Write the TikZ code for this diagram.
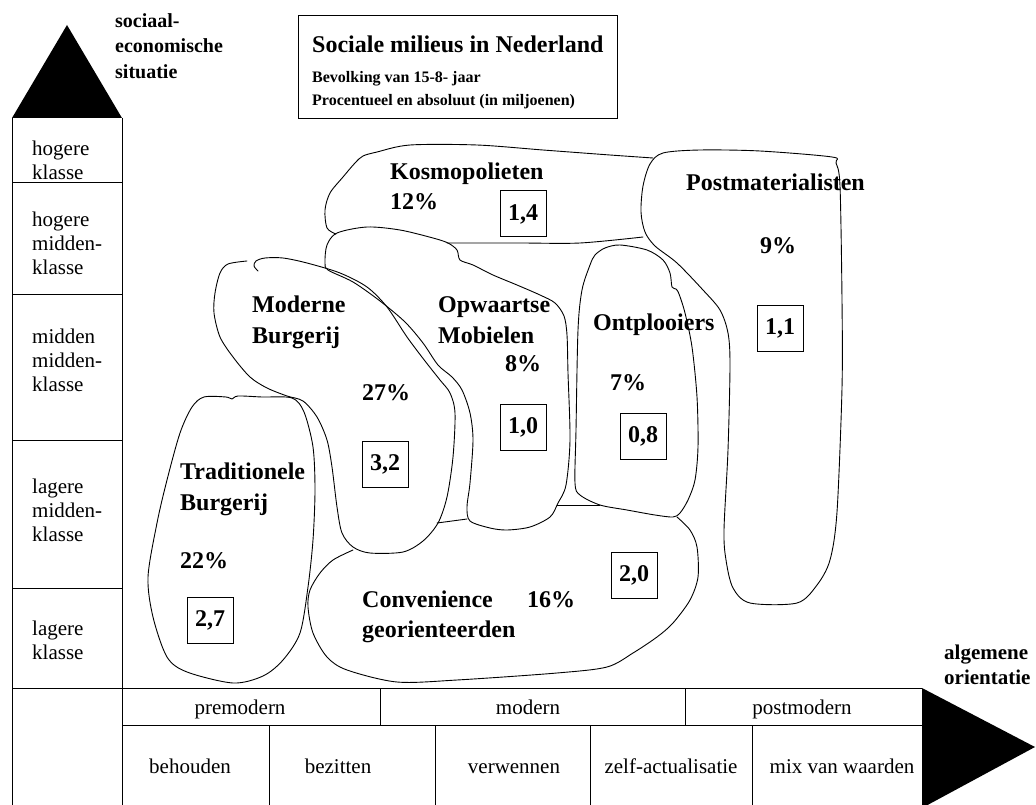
\documentclass[tikz,border=0pt]{standalone}
\usepackage{fontspec}
\setmainfont{Liberation Serif}
\begin{document}
\begin{tikzpicture}[x=1pt,y=-1pt,
  blob/.style={line width=0.9pt, line join=round, line cap=round},
  rule/.style={line width=1pt},
  big/.style={font=\fontsize{24}{27}\selectfont\bfseries, inner sep=0pt, anchor=base west},
  sub/.style={font=\fontsize{16}{19}\selectfont\bfseries, inner sep=0pt, anchor=base west},
  axis/.style={font=\fontsize{20}{24}\selectfont\bfseries, inner sep=0pt, anchor=base west},
  cls/.style={font=\fontsize{21}{24}\selectfont, inner sep=0pt, align=left, anchor=west},
  cell/.style={font=\fontsize{21}{24}\selectfont, inner sep=0pt, anchor=base},
  val/.style={draw, line width=1pt, minimum width=46pt, minimum height=46pt, inner sep=0pt, font=\fontsize{24}{27}\selectfont\bfseries},
]
\useasboundingbox (0,0) rectangle (1036,805);
\clip (0,0) rectangle (1036,805);

% axis arrows
\fill (12,118) -- (67,25) -- (122,118) -- cycle;
\fill (922,688) -- (1035,747) -- (922,808) -- cycle;
\node[axis] (ax1) at (115,28) {sociaal-};
\node[axis] (ax2) at (115,53) {economische};
\node[axis] (ax3) at (115,79) {situatie};
\node[axis, font=\fontsize{21}{24}\selectfont\bfseries] (ox1) at (944,659) {algemene};
\node[axis, font=\fontsize{21}{24}\selectfont\bfseries] (ox2) at (944,684) {orientatie};

% title box
\draw[rule] (298,16) rectangle (617,119);
\node[big] (t1) at (312,53) {Sociale milieus in Nederland};
\node[sub] (t2) at (312,83) {Bevolking van 15-8- jaar};
\node[sub] (t3) at (312,106) {Procentueel en absoluut (in miljoenen)};

% class column
\draw[rule] (12,118) -- (12,805);
\draw[rule] (122,118) -- (122,805);
\foreach \yy in {183,294,440,588} \draw[rule] (12,\yy) -- (122,\yy);
\node[cls] (c1) at (32,160) {hogere\\klasse};
\node[cls] (c2) at (32,243) {hogere\\midden-\\klasse};
\node[cls] (c3) at (32,360) {midden\\midden-\\klasse};
\node[cls] (c4) at (32,510) {lagere\\midden-\\klasse};
\node[cls] (c5) at (32,640) {lagere\\klasse};

% orientation table
\draw[rule] (12,688) -- (922,688);
\draw[rule] (122,725) -- (922,725);
\draw[rule] (380,688) -- (380,725);
\draw[rule] (685,688) -- (685,725);
\foreach \xx in {269,435,590,752} \draw[rule] (\xx,725) -- (\xx,805);
\node[cell] (o1) at (240,714) {premodern};
\node[cell] (o2) at (528,714) {modern};
\node[cell] (o3) at (802,714) {postmodern};
\node[cell] (w1) at (190,773) {behouden};
\node[cell] (w2) at (338,773) {bezitten};
\node[cell] (w3) at (514,773) {verwennen};
\node[cell] (w4) at (671,773) {zelf-actualisatie};
\node[cell] (w5) at (842,773) {mix van waarden};

% Kosmopolieten
\draw[blob] plot[smooth] coordinates {(653,158) (610,155) (543,150) (477,145) (410,145) (377,152) (363,156) (355,163) (343,177) (330,193) (325,210) (327,228) (336,234)};
\draw[blob] plot[smooth] coordinates {(447,243) (520,243) (580,243) (643,237)};

% Opwaartse Mobielen
\draw[blob] plot[smooth cycle] coordinates {(325,262) (327,245) (337,233) (367,227) (400,230) (433,238) (448,243) (457,250) (460,260) (473,265) (493,275) (517,285) (540,295) (555,303) (564,316) (567,335) (568,373) (570,440) (566,485) (558,503) (550,517) (530,527) (507,530) (490,528) (470,521) (467,507) (470,483) (473,440) (470,413) (462,390) (452,377) (438,365) (423,343) (405,322) (380,301) (353,282) (328,270)};

% Moderne Burgerij
\draw[blob] plot[smooth] coordinates {(247,261) (228,264) (220,273) (215,293) (214,313) (220,337) (233,357) (250,377) (267,388) (287,396) (303,401) (317,417) (327,440) (332,467) (337,507) (342,533) (353,547) (370,553) (403,552) (423,541) (438,523) (447,497) (453,457) (455,413) (450,393) (440,380) (425,361) (407,337) (387,307) (367,287) (340,273) (307,263) (283,258) (265,258) (256,261) (254,266) (258,271)};

% Traditionele Burgerij
\draw[blob] plot[smooth cycle] coordinates {(292,398) (262,397) (238,396) (232,399) (226,397) (204,397) (192,407) (180,433) (167,480) (157,523) (148,577) (153,617) (167,657) (187,672) (233,683) (263,676) (283,660) (300,633) (308,587) (313,540) (315,490) (313,447) (304,412)};

% Convenience georienteerden
\draw[blob] plot[smooth] coordinates {(353,550) (333,560) (320,573) (310,590) (308,607) (313,633) (327,657) (347,670) (397,682) (457,680) (557,673) (607,667) (633,653) (657,637) (673,623) (690,600) (698,577) (697,547) (690,530) (677,517)};
\draw[blob] (437,523) -- (467,519);
\draw[blob] (557,505) -- (600,505);

% Ontplooiers
\draw[blob] plot[smooth cycle] coordinates {(590,265) (595,255) (605,248) (620,245) (647,250) (663,260) (670,273) (672,287) (676,289) (679,294) (685,313) (692,347) (697,397) (698,447) (695,480) (688,500) (680,513) (673,517) (655,515) (627,510) (600,505) (580,495) (575,483) (576,430) (578,330) (582,290)};

% Postmaterialisten
\draw[blob] plot[smooth cycle] coordinates {(663,153) (700,150) (760,151) (832,157) (836,163) (840,186) (842,300) (842,388) (837,512) (830,560) (817,585) (797,603) (750,603) (733,588) (726,560) (724,530) (728,450) (730,365) (728,333) (720,310) (703,290) (677,263) (655,246) (645,232) (641,212) (643,186) (650,164)};

% labels
\node[big] (k1) at (390,180) {Kosmopolieten};
\node[big] (k2) at (390,210) {12\%};
\node[big] (p1) at (686,191) {Postmaterialisten};
\node[big] (p2) at (760,253) {9\%};
\node[big] (m1) at (252,312) {Moderne};
\node[big] (m2) at (252,343) {Burgerij};
\node[big] (m3) at (362,400) {27\%};
\node[big] (u1) at (438,312) {Opwaartse};
\node[big] (u2) at (438,343) {Mobielen};
\node[big] (u3) at (505,371) {8\%};
\node[big] (n1) at (593,330) {Ontplooiers};
\node[big] (n2) at (610,390) {7\%};
\node[big] (r1) at (180,479) {Traditionele};
\node[big] (r2) at (180,510) {Burgerij};
\node[big] (r3) at (180,568) {22\%};
\node[big] (g1) at (362,607) {Convenience};
\node[big] (g2) at (527,607) {16\%};
\node[big] (g3) at (362,637) {georienteerden};

% absolute numbers
\node[val] (vk) at (523,214) {1,4};
\node[val] (vp) at (780,328) {1,1};
\node[val] (vu) at (523,427) {1,0};
\node[val] (vn) at (643,436) {0,8};
\node[val] (vm) at (385,464) {3,2};
\node[val] (vr) at (210,620) {2,7};
\node[val] (vg) at (634,575) {2,0};
\end{tikzpicture}
\end{document}
